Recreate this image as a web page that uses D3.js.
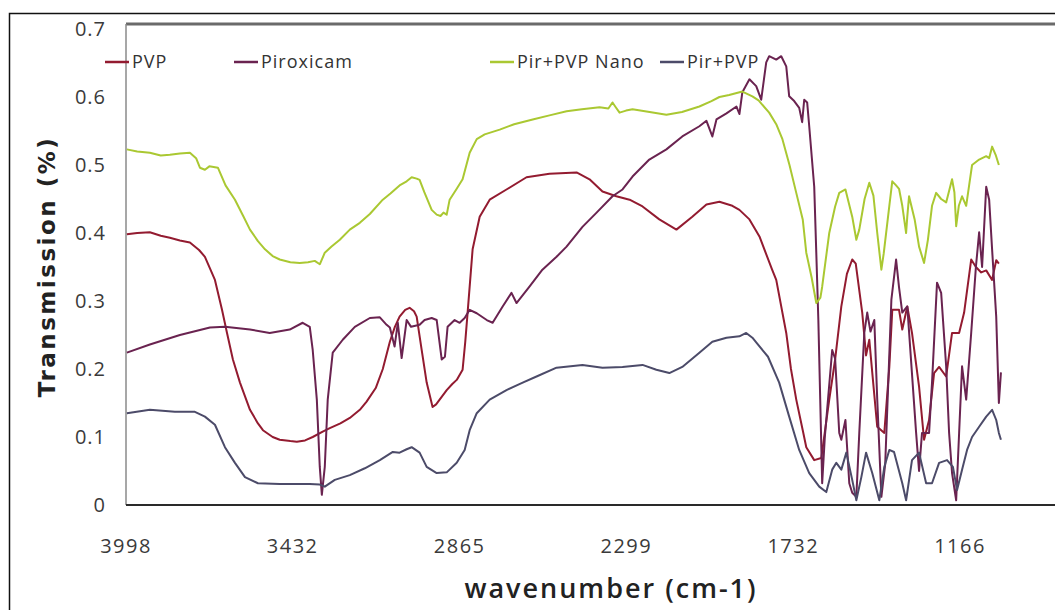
<!DOCTYPE html>
<html>
<head>
<meta charset="utf-8">
<script src="https://cdn.jsdelivr.net/npm/d3@7"></script>
<style>
  html, body { margin: 0; padding: 0; background: #ffffff; }
  svg { display: block; }
</style>
</head>
<body>
<svg id="chart" width="1055" height="610"></svg>
<script>
// FTIR spectra: [wavenumber (cm-1), transmission]
const seriesNames = ["PVP", "Piroxicam", "Pir+PVP Nano", "Pir+PVP"];
const seriesColors = ["#931b30", "#6a2350", "#aac832", "#4c4b69"];

const pvp = [
  [3995,0.398],[3960,0.400],[3917,0.401],[3880,0.396],[3849,0.393],[3815,0.389],[3781,0.386],[3750,0.375],
  [3730,0.365],[3710,0.345],[3696,0.331],[3672,0.287],[3655,0.253],[3635,0.214],[3611,0.180],[3577,0.140],
  [3550,0.120],[3533,0.110],[3500,0.100],[3476,0.096],[3440,0.094],[3418,0.093],[3390,0.095],[3364,0.100],
  [3330,0.108],[3306,0.113],[3270,0.120],[3238,0.128],[3204,0.140],[3181,0.152],[3150,0.172],[3126,0.200],
  [3102,0.240],[3085,0.262],[3069,0.277],[3050,0.287],[3035,0.290],[3020,0.285],[3011,0.277],[2994,0.228],
  [2977,0.180],[2957,0.144],[2945,0.148],[2933,0.155],[2909,0.169],[2890,0.178],[2875,0.184],[2855,0.199],
  [2846,0.240],[2838,0.283],[2821,0.376],[2797,0.424],[2763,0.449],[2706,0.464],[2638,0.482],[2560,0.487],
  [2468,0.489],[2424,0.479],[2380,0.461],[2333,0.454],[2288,0.449],[2244,0.439],[2187,0.420],[2129,0.405],
  [2075,0.424],[2027,0.442],[1983,0.446],[1939,0.440],[1915,0.434],[1881,0.420],[1847,0.395],[1804,0.346],
  [1790,0.331],[1756,0.253],[1740,0.200],[1722,0.155],[1700,0.110],[1688,0.085],[1661,0.066],[1637,0.069],
  [1610,0.155],[1590,0.214],[1569,0.292],[1550,0.340],[1532,0.361],[1520,0.355],[1498,0.283],[1485,0.220],
  [1474,0.243],[1464,0.195],[1447,0.115],[1423,0.106],[1406,0.203],[1396,0.287],[1373,0.287],[1362,0.258],
  [1345,0.292],[1329,0.253],[1305,0.174],[1288,0.096],[1271,0.125],[1254,0.194],[1237,0.203],[1213,0.189],
  [1193,0.253],[1169,0.253],[1152,0.283],[1128,0.361],[1112,0.350],[1094,0.342],[1077,0.345],[1057,0.331],
  [1043,0.360],[1034,0.355]
];

const piroxicam = [
  [3995,0.224],[3917,0.236],[3815,0.250],[3713,0.261],[3662,0.262],[3577,0.258],[3510,0.253],[3442,0.258],
  [3398,0.268],[3374,0.262],[3364,0.228],[3350,0.155],[3340,0.056],[3333,0.015],[3323,0.056],[3313,0.155],
  [3296,0.224],[3262,0.243],[3221,0.262],[3170,0.275],[3136,0.276],[3113,0.265],[3102,0.261],[3086,0.233],
  [3075,0.268],[3062,0.216],[3045,0.272],[3030,0.262],[3001,0.265],[2984,0.272],[2960,0.275],[2943,0.272],
  [2926,0.214],[2915,0.218],[2906,0.262],[2882,0.272],[2865,0.268],[2848,0.275],[2831,0.287],[2807,0.282],
  [2773,0.272],[2753,0.268],[2719,0.292],[2689,0.312],[2672,0.297],[2628,0.321],[2584,0.346],[2536,0.365],
  [2502,0.380],[2448,0.409],[2400,0.430],[2346,0.454],[2312,0.464],[2278,0.483],[2221,0.508],[2163,0.523],
  [2109,0.542],[2051,0.557],[2027,0.565],[2007,0.542],[1993,0.567],[1959,0.576],[1925,0.586],[1915,0.575],
  [1905,0.607],[1881,0.626],[1858,0.616],[1841,0.596],[1824,0.651],[1814,0.660],[1790,0.655],[1773,0.660],
  [1756,0.645],[1746,0.601],[1729,0.594],[1712,0.584],[1702,0.563],[1695,0.596],[1685,0.592],[1678,0.557],
  [1661,0.468],[1654,0.371],[1647,0.272],[1634,0.032],[1625,0.100],[1600,0.228],[1590,0.215],[1576,0.106],
  [1569,0.096],[1555,0.125],[1542,0.032],[1532,0.018],[1518,0.012],[1508,0.106],[1491,0.253],[1481,0.283],
  [1470,0.255],[1457,0.272],[1447,0.155],[1433,0.012],[1420,0.060],[1399,0.302],[1383,0.361],[1373,0.320],
  [1362,0.283],[1345,0.292],[1315,0.106],[1305,0.050],[1295,0.106],[1271,0.106],[1261,0.180],[1244,0.327],
  [1230,0.312],[1213,0.204],[1203,0.106],[1193,0.047],[1179,0.007],[1169,0.106],[1159,0.204],[1145,0.155],
  [1128,0.253],[1112,0.350],[1101,0.401],[1091,0.350],[1077,0.468],[1067,0.449],[1057,0.376],[1043,0.277],
  [1034,0.150],[1027,0.195]
];

const pirPvpNano = [
  [3995,0.523],[3960,0.520],[3917,0.518],[3880,0.514],[3849,0.515],[3815,0.517],[3781,0.518],[3760,0.510],
  [3747,0.496],[3730,0.493],[3715,0.498],[3686,0.496],[3660,0.470],[3628,0.449],[3600,0.425],[3577,0.405],
  [3550,0.388],[3526,0.376],[3500,0.366],[3476,0.361],[3440,0.357],[3408,0.356],[3380,0.357],[3357,0.359],
  [3340,0.354],[3323,0.371],[3300,0.380],[3272,0.390],[3238,0.405],[3204,0.415],[3170,0.428],[3126,0.449],
  [3100,0.458],[3069,0.470],[3045,0.476],[3028,0.482],[3011,0.480],[3001,0.478],[2985,0.460],[2960,0.434],
  [2943,0.427],[2930,0.425],[2920,0.430],[2909,0.427],[2899,0.449],[2875,0.465],[2855,0.479],[2831,0.518],
  [2807,0.538],[2780,0.545],[2729,0.552],[2680,0.560],[2617,0.567],[2560,0.573],[2502,0.579],[2450,0.582],
  [2390,0.585],[2360,0.583],[2346,0.592],[2335,0.585],[2322,0.577],[2300,0.580],[2278,0.582],[2220,0.578],
  [2163,0.574],[2110,0.578],[2051,0.586],[2010,0.594],[1983,0.600],[1950,0.603],[1905,0.608],[1871,0.601],
  [1850,0.595],[1814,0.577],[1790,0.560],[1769,0.538],[1745,0.500],[1722,0.459],[1700,0.420],[1688,0.371],
  [1670,0.335],[1654,0.297],[1640,0.305],[1634,0.321],[1610,0.400],[1590,0.439],[1576,0.459],[1555,0.464],
  [1532,0.424],[1518,0.390],[1508,0.405],[1490,0.450],[1474,0.474],[1460,0.455],[1447,0.400],[1433,0.346],
  [1425,0.370],[1406,0.440],[1396,0.476],[1383,0.470],[1373,0.465],[1362,0.440],[1349,0.400],[1345,0.424],
  [1339,0.454],[1320,0.420],[1305,0.380],[1288,0.356],[1275,0.390],[1261,0.440],[1247,0.459],[1230,0.450],
  [1213,0.445],[1193,0.479],[1185,0.460],[1179,0.410],[1170,0.440],[1159,0.454],[1145,0.440],[1135,0.470],
  [1125,0.500],[1101,0.508],[1077,0.513],[1067,0.510],[1057,0.527],[1045,0.515],[1034,0.500]
];

const pirPvp = [
  [3995,0.135],[3917,0.140],[3832,0.137],[3764,0.137],[3730,0.130],[3696,0.118],[3662,0.085],[3628,0.062],
  [3594,0.041],[3550,0.032],[3476,0.031],[3374,0.031],[3340,0.030],[3323,0.027],[3289,0.037],[3238,0.044],
  [3187,0.054],[3136,0.066],[3092,0.078],[3069,0.077],[3045,0.082],[3028,0.085],[3001,0.077],[2977,0.056],
  [2943,0.047],[2909,0.048],[2875,0.062],[2848,0.081],[2831,0.110],[2807,0.135],[2763,0.155],[2706,0.169],
  [2651,0.180],[2604,0.189],[2536,0.202],[2448,0.206],[2380,0.202],[2312,0.203],[2244,0.206],[2197,0.199],
  [2153,0.194],[2109,0.203],[2051,0.224],[2007,0.240],[1959,0.246],[1915,0.248],[1892,0.253],[1871,0.246],
  [1858,0.239],[1818,0.218],[1780,0.180],[1746,0.130],[1712,0.081],[1678,0.047],[1644,0.027],[1620,0.019],
  [1600,0.052],[1586,0.062],[1569,0.052],[1552,0.077],[1532,0.037],[1518,0.007],[1501,0.041],[1485,0.077],
  [1464,0.047],[1440,0.007],[1423,0.056],[1406,0.081],[1390,0.078],[1362,0.032],[1349,0.007],[1329,0.066],
  [1305,0.077],[1281,0.032],[1261,0.032],[1237,0.062],[1210,0.066],[1190,0.056],[1176,0.022],[1159,0.052],
  [1142,0.081],[1125,0.100],[1101,0.115],[1077,0.130],[1057,0.140],[1043,0.125],[1034,0.106],[1027,0.096]
];

const allSeries = [pvp, piroxicam, pirPvpNano, pirPvp];

const xTickValues = [3998, 3432, 2865, 2299, 1732, 1166];
const yTickValues = [0, 0.1, 0.2, 0.3, 0.4, 0.5, 0.6, 0.7];

const svg = d3.select("#chart");
const W = 1055, H = 610;

const x = d3.scaleLinear().domain([3998, 1166]).range([126, 960]);
const y = d3.scaleLinear().domain([0, 0.7]).range([505, 29]);

const plotLeft = x(3998);
const plotRight = W + 20;
const plotTop = y(0.7) - 5;
const plotBottom = y(0);

// outer frame
svg.append("rect")
  .attr("x", 9.5).attr("y", 13.5)
  .attr("width", W + 40).attr("height", H + 40)
  .attr("fill", "none").attr("stroke", "#111").attr("stroke-width", 1.5);

// plot top border and left axis
svg.append("line")
  .attr("x1", plotLeft).attr("x2", plotRight)
  .attr("y1", plotTop).attr("y2", plotTop)
  .attr("stroke", "#6a6a6a").attr("stroke-width", 3);
svg.append("line")
  .attr("x1", plotLeft).attr("x2", plotLeft)
  .attr("y1", plotTop).attr("y2", plotBottom)
  .attr("stroke", "#8a8a8a").attr("stroke-width", 1.5);

// y tick labels
svg.append("g").selectAll("text")
  .data(yTickValues)
  .join("text")
  .attr("x", 106)
  .attr("y", d => y(d))
  .attr("dy", "0.36em")
  .attr("text-anchor", "end")
  .attr("font-family", "'Open Sans', sans-serif")
  .attr("font-size", 20)
  .attr("letter-spacing", 1)
  .attr("fill", "#3a3a3a")
  .text(d => d === 0 ? "0" : d3.format(".1f")(d));

// x tick labels
svg.append("g").selectAll("text")
  .data(xTickValues)
  .join("text")
  .attr("x", d => x(d))
  .attr("y", 546)
  .attr("dy", "0.36em")
  .attr("text-anchor", "middle")
  .attr("font-family", "'Open Sans', sans-serif")
  .attr("font-size", 20)
  .attr("letter-spacing", 1.5)
  .attr("fill", "#3a3a3a")
  .text(d => d);

// axis titles
svg.append("text")
  .attr("transform", "translate(47," + ((plotTop + plotBottom) / 2 + 2) + ") rotate(-90)")
  .attr("text-anchor", "middle")
  .attr("dy", "0.36em")
  .attr("font-family", "'DejaVu Sans', sans-serif")
  .attr("font-weight", "bold")
  .attr("font-size", 23)
  .attr("letter-spacing", 2.5)
  .attr("fill", "#222")
  .text("Transmission (%)");

svg.append("text")
  .attr("x", 611)
  .attr("y", 588)
  .attr("dy", "0.36em")
  .attr("text-anchor", "middle")
  .attr("font-family", "'Open Sans', sans-serif")
  .attr("font-weight", 600)
  .attr("font-size", 27)
  .attr("letter-spacing", 2)
  .attr("fill", "#222")
  .text("wavenumber (cm-1)");

// spectra
const line = d3.line()
  .x(d => x(d[0]))
  .y(d => y(d[1]));

svg.append("g").selectAll("path")
  .data(allSeries)
  .join("path")
  .attr("d", line)
  .attr("fill", "none")
  .attr("stroke", (d, i) => seriesColors[i])
  .attr("stroke-width", 2)
  .attr("stroke-linejoin", "round");

// bottom axis line
svg.append("line")
  .attr("x1", plotLeft).attr("x2", plotRight)
  .attr("y1", plotBottom).attr("y2", plotBottom)
  .attr("stroke", "#2a2a2a").attr("stroke-width", 2.2);

// legend
const legendX = [105, 234, 490, 660];
const legend = svg.append("g").selectAll("g")
  .data(seriesNames)
  .join("g")
  .attr("transform", (d, i) => "translate(" + legendX[i] + ",62)");
legend.append("line")
  .attr("x1", 0).attr("x2", 24)
  .attr("stroke", (d, i) => seriesColors[i])
  .attr("stroke-width", 2.5);
legend.append("text")
  .attr("x", 27)
  .attr("dy", "0.36em")
  .attr("font-family", "'Open Sans', sans-serif")
  .attr("font-size", 18)
  .attr("letter-spacing", 1)
  .attr("fill", "#333")
  .text(d => d);
</script>
</body>
</html>
